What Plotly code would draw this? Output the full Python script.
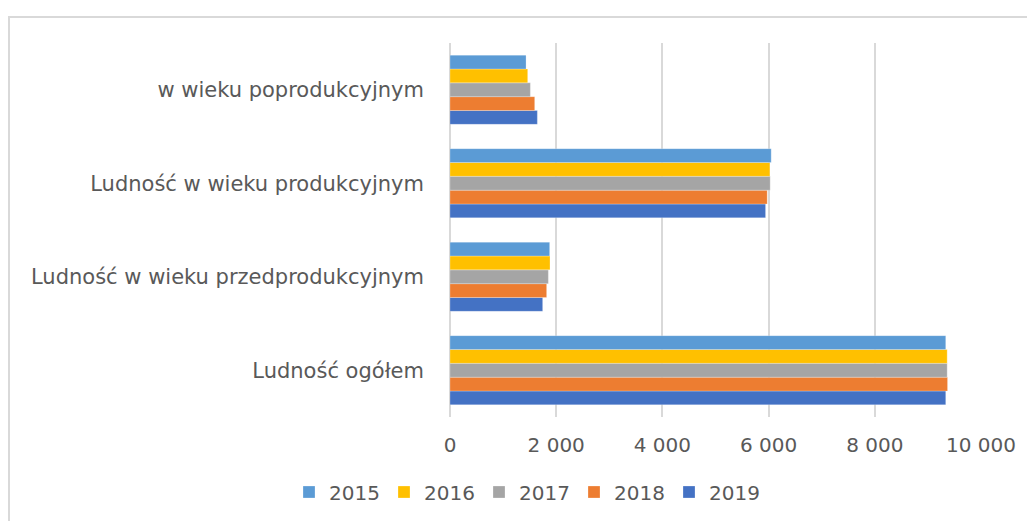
import plotly.graph_objects as go

categories = ["Ludność ogółem", "Ludność w wieku przedprodukcyjnym",
              "Ludność w wieku produkcyjnym", "w wieku poprodukcyjnym"]
years = ["2015", "2016", "2017", "2018", "2019"]
values = {
    "2015": [9336, 1877, 6049, 1432],
    "2016": [9363, 1883, 6024, 1463],
    "2017": [9363, 1852, 6030, 1513],
    "2018": [9370, 1820, 5974, 1595],
    "2019": [9336, 1745, 5943, 1645],
}
colors = {
    "2015": "#5B9BD5",
    "2016": "#FFC000",
    "2017": "#A5A5A5",
    "2018": "#ED7D31",
    "2019": "#4472C4",
}
tick_vals = [0, 2000, 4000, 6000, 8000, 10000]

fig = go.Figure()
for y in reversed(years):
    fig.add_trace(go.Bar(
        y=categories, x=values[y], name=y, orientation="h",
        marker=dict(color=colors[y], line=dict(color="rgba(255,255,255,0.5)", width=0.5)),
    ))

W, H = 1027, 513
L, T = 442, 35
PW, PH = 531, 374
fig.update_layout(
    width=W, height=H,
    barmode="group", bargap=0.26, bargroupgap=0,
    paper_bgcolor="white", plot_bgcolor="white",
    margin=dict(l=L, r=W - L - PW, t=T, b=H - T - PH, autoexpand=False),
    separators=", ",
    font=dict(family="DejaVu Sans, sans-serif", color="#595959", size=20),
    xaxis=dict(range=[0, 10000], tickvals=tick_vals, tickformat=",d",
               showgrid=True, gridcolor="#D9D9D9", gridwidth=2,
               zeroline=True, zerolinecolor="#D9D9D9", zerolinewidth=2,
               showline=False, ticks="", ticklabelstandoff=14,
               tickfont=dict(family="DejaVu Sans, sans-serif", size=20, color="#595959")),
    yaxis=dict(type="category", showgrid=False, showline=False, ticks="",
               ticklabelstandoff=25,
               tickfont=dict(family="DejaVu Sans, sans-serif", size=21, color="#595959")),
    legend=dict(orientation="h", traceorder="reversed", x=(281 - L) / PW, xanchor="left",
                y=(T + PH - 484) / PH, yanchor="middle",
                font=dict(family="DejaVu Sans, sans-serif", size=20, color="#595959"),
                itemwidth=30, entrywidthmode="pixels", entrywidth=50),
    shapes=[dict(type="rect", xref="paper", yref="paper",
                 x0=(1 - L) / PW, x1=(W + 20 - L) / PW,
                 y0=(T + PH - (H + 20)) / PH, y1=(T + PH - 9) / PH,
                 line=dict(color="#D9D9D9", width=2), fillcolor="rgba(0,0,0,0)",
                 layer="below")],
)

fig.write_html("out.html")
